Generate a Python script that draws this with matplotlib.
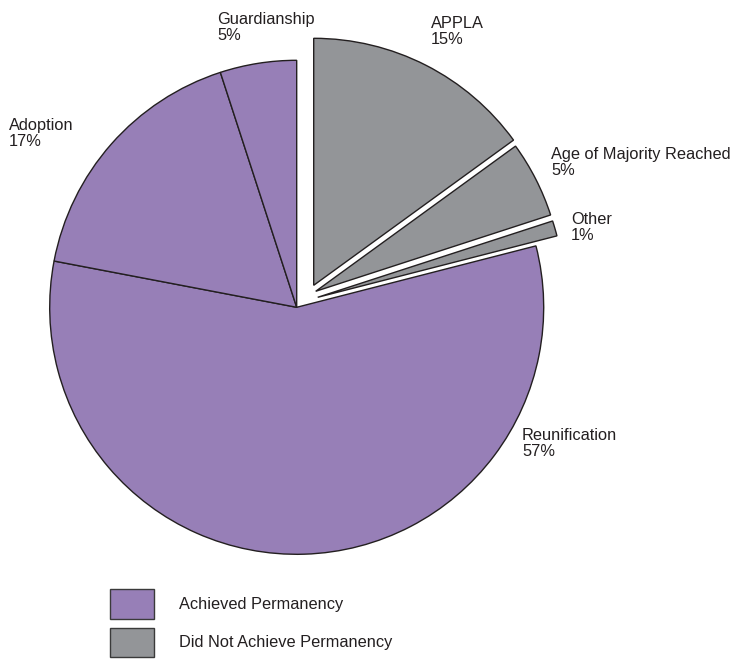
import matplotlib.pyplot as plt
from matplotlib.patches import Patch

# data
labels = ['APPLA', 'Age of Majority Reached', 'Other', 'Reunification', 'Adoption', 'Guardianship']
shares = [15, 5, 1, 57, 17, 5]
achieved = [False, False, False, True, True, True]
legend_labels = ['Achieved Permanency', 'Did Not Achieve Permanency']

purple = '#977fb7'
gray = '#939598'

# layout: label anchor (top-left, px from top-left) and pull-out offset of each slice (px, x right / y up)
label_pos = [(431, 16), (551, 147), (571, 212), (522, 428), (9, 118), (217, 12)]
offsets = [(17, 22), (19, 16), (21, 10), (0, 0), (0, 0), (0, 0)]

plt.rcParams['font.family'] = ['Liberation Sans', 'DejaVu Sans']

W, H = 734, 660
R = 247
cx, cy = 296.7, H - 307.3
fig = plt.figure(figsize=(W / 100, H / 100), dpi=100)
ax = fig.add_axes([0, 0, 1, 1])

colors = [purple if a else gray for a in achieved]
wedges, _ = ax.pie(shares, colors=colors, startangle=90, counterclock=False,
                   center=(cx, cy), radius=R, frame=True,
                   wedgeprops=dict(edgecolor='#231f20', linewidth=1.0))
for w, (ox, oy) in zip(wedges, offsets):
    w.set_center((cx + ox, cy + oy))
ax.set_xlim(0, W)
ax.set_ylim(0, H)
ax.axis('off')

for lab, s, (x, y) in zip(labels, shares, label_pos):
    ax.text(x, H - y, f'{lab}\n{s}%', ha='left', va='top', fontsize=11.8,
            color='#231f20', linespacing=1.1)

handles = [Patch(facecolor=purple, edgecolor='#3a3a3a', linewidth=1),
           Patch(facecolor=gray, edgecolor='#3a3a3a', linewidth=1)]
fig.legend(handles, legend_labels, loc='upper left', bbox_to_anchor=(110 / W, 1 - 589 / H),
           frameon=False, fontsize=11.8, handlelength=2.7, handleheight=2.4,
           handletextpad=1.5, labelspacing=0.55, borderpad=0, borderaxespad=0,
           labelcolor='#231f20')

fig.savefig('out.png', dpi=100)
